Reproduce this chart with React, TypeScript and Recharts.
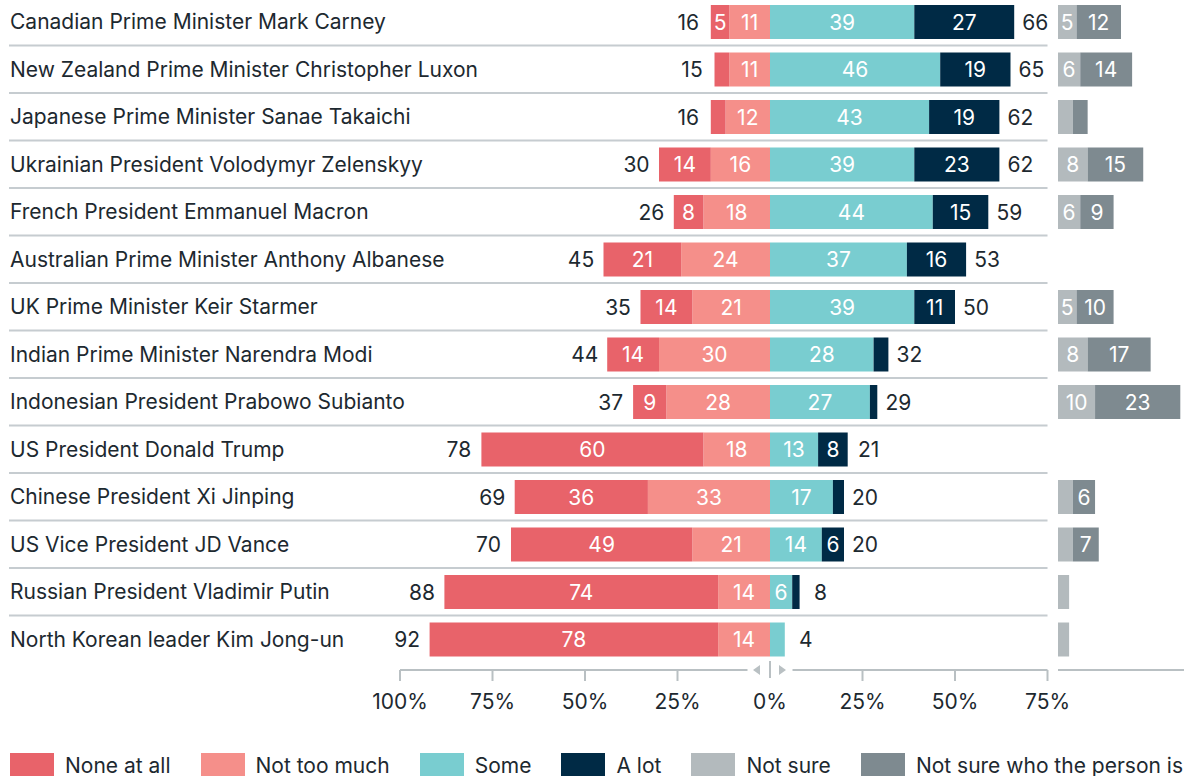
import React from 'react';
import { BarChart, Bar, XAxis, YAxis, LabelList } from 'recharts';

const names = [
  'Canadian Prime Minister Mark Carney',
  'New Zealand Prime Minister Christopher Luxon',
  'Japanese Prime Minister Sanae Takaichi',
  'Ukrainian President Volodymyr Zelenskyy',
  'French President Emmanuel Macron',
  'Australian Prime Minister Anthony Albanese',
  'UK Prime Minister Keir Starmer',
  'Indian Prime Minister Narendra Modi',
  'Indonesian President Prabowo Subianto',
  'US President Donald Trump',
  'Chinese President Xi Jinping',
  'US Vice President JD Vance',
  'Russian President Vladimir Putin',
  'North Korean leader Kim Jong-un',
];
const noneAtAll = [5, 4, 4, 14, 8, 21, 14, 14, 9, 60, 36, 49, 74, 78];
const notTooMuch = [11, 11, 12, 16, 18, 24, 21, 30, 28, 18, 33, 21, 14, 14];
const some = [39, 46, 43, 39, 44, 37, 39, 28, 27, 13, 17, 14, 6, 4];
const aLot = [27, 19, 19, 23, 15, 16, 11, 4, 2, 8, 3, 6, 2, 0];
const negTotals = [16, 15, 16, 30, 26, 45, 35, 44, 37, 78, 69, 70, 88, 92];
const posTotals = [66, 65, 62, 62, 59, 53, 50, 32, 29, 21, 20, 20, 8, 4];
const notSure = [5, 6, 4, 8, 6, 0, 5, 8, 10, 0, 4, 4, 3, 3];
const notSureWho = [12, 14, 4, 15, 9, 0, 10, 17, 23, 0, 6, 7, 0, 0];
const xTicks = [-100, -75, -50, -25, 0, 25, 50, 75];

const legendNames = ['None at all', 'Not too much', 'Some', 'A lot', 'Not sure', 'Not sure who the person is'];
const legendColors = ['#e8636a', '#f58f8a', '#79cdd0', '#002a45', '#b3babd', '#7e8a90'];

const C_NONE = legendColors[0];
const C_NTM = legendColors[1];
const C_SOME = legendColors[2];
const C_ALOT = legendColors[3];
const C_NS = legendColors[4];
const C_NSW = legendColors[5];
const TEXT = '#1d2930';
const GRID = '#c6ccd0';
const AXIS = '#b9c0c3';
const FONT = 'Inter, "Noto Sans", sans-serif';
const FS = 21;

const data = names.map((name, i) => ({
  name,
  notTooMuch: -notTooMuch[i],
  noneAtAll: -noneAtAll[i],
  some: some[i],
  aLot: aLot[i],
  negTotal: negTotals[i],
  posTotal: posTotals[i],
  notSure: notSure[i],
  notSureWho: notSureWho[i],
}));

const CHART_H = 722;
const X_AXIS_H = 50;
const PAD_BOTTOM = 7;
const BAND = (CHART_H - X_AXIS_H - PAD_BOTTOM) / names.length;
const LAST = names[names.length - 1];

const box = (p: any) => {
  const vb = p.viewBox || p;
  return { x: Number(vb.x), y: Number(vb.y), width: Number(vb.width), height: Number(vb.height) };
};

const segLabel = (p: any) => {
  const v = Math.abs(Number(p.value));
  if (!v || v < 5) return null;
  const { x, y, width, height } = box(p);
  return (
    <text x={x + width / 2} y={y + height / 2} fill="#ffffff" textAnchor="middle" dominantBaseline="central" fontSize={FS} fontFamily={FONT}>
      {v}
    </text>
  );
};

const leftTotal = (p: any) => {
  if (p.value == null) return null;
  const { x, y, width, height } = box(p);
  const left = Math.min(x, x + width);
  return (
    <text x={left - 22.5} y={y + height / 2} fill={TEXT} textAnchor="middle" dominantBaseline="central" fontSize={FS} fontFamily={FONT}>
      {p.value}
    </text>
  );
};

const rightTotal = (p: any) => {
  if (p.value == null) return null;
  const { x, y, width, height } = box(p);
  const right = Math.max(x, x + width);
  return (
    <text x={right + 21} y={y + height / 2} fill={TEXT} textAnchor="middle" dominantBaseline="central" fontSize={FS} fontFamily={FONT}>
      {p.value}
    </text>
  );
};

const totalOnSome = (d: any) => (d.aLot === 0 ? d.posTotal : null);
const totalOnALot = (d: any) => (d.aLot !== 0 ? d.posTotal : null);

const YTick = (p: any) => {
  const { y, payload } = p;
  const isLast = payload.value === LAST;
  return (
    <g>
      <text x={10} y={y} fill={TEXT} dominantBaseline="central" fontSize={FS} fontFamily={FONT}>
        {payload.value}
      </text>
      {!isLast && <line x1={9} x2={1047.5} y1={y + BAND / 2} y2={y + BAND / 2} stroke={GRID} strokeWidth={2} />}
    </g>
  );
};

const NSTick = (p: any) => {
  const { y, payload } = p;
  const isLast = payload.value === LAST;
  if (isLast) return <g />;
  return <line x1={58} x2={184} y1={y + BAND / 2} y2={y + BAND / 2} stroke={GRID} strokeWidth={2} />;
};

const XTick = (p: any) => {
  const { x, y, payload } = p;
  const v = Number(payload.value);
  const label = `${Math.abs(v)}%`;
  if (v === 0) {
    return (
      <g>
        <rect x={x - 22.5} y={y - 4} width={45} height={8} fill="#ffffff" />
        <polygon points={`${x - 17},${y} ${x - 10},${y - 5} ${x - 10},${y + 5}`} fill={AXIS} />
        <line x1={x} x2={x} y1={y - 9} y2={y + 8} stroke={AXIS} strokeWidth={2} />
        <polygon points={`${x + 16},${y} ${x + 9},${y - 5} ${x + 9},${y + 5}`} fill={AXIS} />
        <text x={x} y={y + 31} fill={TEXT} textAnchor="middle" dominantBaseline="central" fontSize={FS} fontFamily={FONT}>
          {label}
        </text>
      </g>
    );
  }
  return (
    <g>
      <line x1={x} x2={x} y1={y} y2={y + 11} stroke={AXIS} strokeWidth={2} />
      <text x={x} y={y + 31} fill={TEXT} textAnchor="middle" dominantBaseline="central" fontSize={FS} fontFamily={FONT}>
        {label}
      </text>
    </g>
  );
};

export default function App() {
  return (
    <div style={{ position: 'absolute', left: 0, top: 0, width: 1193, height: 776, overflow: 'hidden', background: '#ffffff', fontFamily: FONT }}>
      <div style={{ position: 'absolute', left: 0, top: -2 }}>
        <BarChart
          width={1080}
          height={CHART_H}
          data={data}
          layout="vertical"
          stackOffset="sign"
          margin={{ top: 0, right: 32.5, bottom: 0, left: 0 }}
        >
          <XAxis
            type="number"
            domain={[-100, 75]}
            ticks={xTicks}
            allowDataOverflow
            height={X_AXIS_H}
            tickLine={false}
            tickSize={0}
            tickMargin={0}
            axisLine={{ stroke: AXIS, strokeWidth: 2 }}
            tick={<XTick />}
          />
          <YAxis
            type="category"
            dataKey="name"
            width={400}
            interval={0}
            axisLine={false}
            tickLine={false}
            padding={{ top: 0, bottom: PAD_BOTTOM }}
            tick={<YTick />}
          />
          <Bar dataKey="notTooMuch" stackId="a" fill={C_NTM} barSize={34} isAnimationActive={false}>
            <LabelList dataKey="notTooMuch" content={segLabel} />
          </Bar>
          <Bar dataKey="noneAtAll" stackId="a" fill={C_NONE} barSize={34} isAnimationActive={false}>
            <LabelList dataKey="noneAtAll" content={segLabel} />
            <LabelList dataKey="negTotal" content={leftTotal} />
          </Bar>
          <Bar dataKey="some" stackId="a" fill={C_SOME} barSize={34} isAnimationActive={false}>
            <LabelList dataKey="some" content={segLabel} />
            <LabelList dataKey={totalOnSome} content={rightTotal} />
          </Bar>
          <Bar dataKey="aLot" stackId="a" fill={C_ALOT} barSize={34} isAnimationActive={false}>
            <LabelList dataKey="aLot" content={segLabel} />
            <LabelList dataKey={totalOnALot} content={rightTotal} />
          </Bar>
        </BarChart>
      </div>
      <div style={{ position: 'absolute', left: 1000, top: -2 }}>
        <BarChart
          width={193}
          height={CHART_H}
          data={data}
          layout="vertical"
          margin={{ top: 0, right: 9, bottom: 0, left: 58 }}
        >
          <XAxis
            type="number"
            domain={[0, 34]}
            allowDataOverflow
            height={X_AXIS_H}
            tick={false}
            tickLine={false}
            axisLine={{ stroke: AXIS, strokeWidth: 2 }}
          />
          <YAxis
            type="category"
            dataKey="name"
            width={0}
            interval={0}
            axisLine={false}
            tickLine={false}
            padding={{ top: 0, bottom: PAD_BOTTOM }}
            tick={<NSTick />}
          />
          <Bar dataKey="notSure" stackId="n" fill={C_NS} barSize={34} isAnimationActive={false}>
            <LabelList dataKey="notSure" content={segLabel} />
          </Bar>
          <Bar dataKey="notSureWho" stackId="n" fill={C_NSW} barSize={34} isAnimationActive={false}>
            <LabelList dataKey="notSureWho" content={segLabel} />
          </Bar>
        </BarChart>
      </div>
      <div style={{ position: 'absolute', left: 10, top: 753, display: 'flex', alignItems: 'flex-start' }}>
        {legendNames.map((n, i) => (
          <div key={n} style={{ display: 'flex', alignItems: 'center', marginRight: 30 }}>
            <div style={{ width: 44, height: 26, background: legendColors[i] }} />
            <span style={{ marginLeft: 11, fontSize: FS, color: TEXT, lineHeight: '26px', whiteSpace: 'nowrap' }}>{n}</span>
          </div>
        ))}
      </div>
    </div>
  );
}
